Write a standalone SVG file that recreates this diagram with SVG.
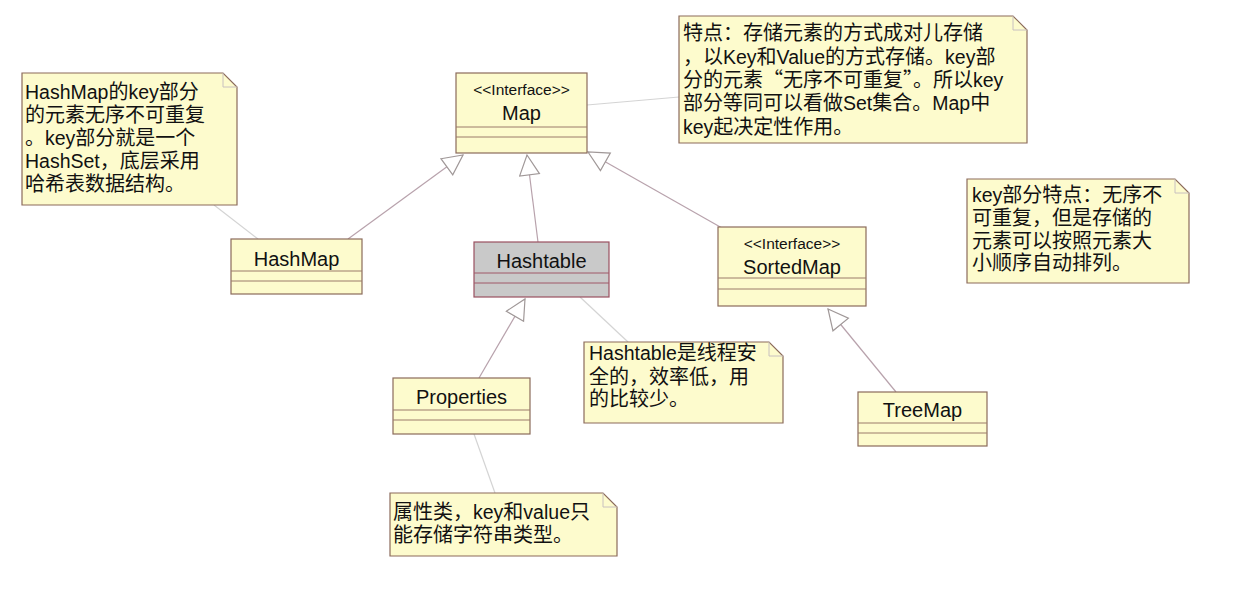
<svg xmlns="http://www.w3.org/2000/svg" width="1240" height="609" viewBox="0 0 1240 609">
<style>
.cls{fill:#fdfbcd;stroke:#8b6b5b;stroke-width:1.2}
.gray{fill:#c9c9c9;stroke:#9a5060;stroke-width:1.2}
.sep{stroke:#9b7b6b;stroke-width:1}
.sepg{stroke:#a05868;stroke-width:1}
.note{fill:#fdfbcd;stroke:#8b6b5b;stroke-width:1.2}
.fold{fill:none;stroke:#c8c0c0;stroke-width:1}
.name{font-family:"Liberation Sans",Arial,sans-serif;font-size:20px;fill:#111;text-anchor:middle}
.st{font-family:"Liberation Sans",Arial,sans-serif;font-size:15.5px;fill:#111;text-anchor:middle}
.nt{font-family:"Noto Sans CJK SC",sans-serif;font-size:20px;fill:#111}
.l{font-family:"Liberation Sans",Arial,sans-serif;font-size:19.5px}
.gen{stroke:#b8a2ac;stroke-width:1.2;fill:none;marker-end:url(#tri)}
.link{stroke:#d4d4d4;stroke-width:1.2;fill:none}
</style>
<defs>
<marker id="tri" markerUnits="userSpaceOnUse" markerWidth="26" markerHeight="26" refX="21" refY="11" orient="auto">
<path d="M1,1 L21,11 L1,21 Z" fill="#fff" stroke="#a09898" stroke-width="1.2"/>
</marker>
</defs>
<rect width="1240" height="609" fill="#fff"/>

<g id="connectors">
<line class="gen" x1="348" y1="239" x2="463" y2="155"/>
<line class="gen" x1="538" y1="242" x2="527" y2="155"/>
<line class="gen" x1="722" y1="228" x2="588" y2="152"/>
<line class="gen" x1="479" y1="378" x2="525" y2="299"/>
<line class="gen" x1="896" y1="392" x2="828" y2="309"/>
<line class="link" x1="587" y1="105" x2="679" y2="97"/>
<line class="link" x1="214" y1="205" x2="258" y2="239"/>
<line class="link" x1="580" y1="297" x2="628" y2="342"/>
<line class="link" x1="474" y1="434" x2="495" y2="493"/>
</g>

<g id="Map">
<rect class="cls" x="456" y="73" width="131" height="80"/>
<line class="sep" x1="456" y1="127" x2="587" y2="127"/>
<line class="sep" x1="456" y1="137" x2="587" y2="137"/>
<text class="st" x="521.5" y="95">&lt;&lt;Interface&gt;&gt;</text>
<text class="name" x="521.5" y="120">Map</text>
</g>

<g id="HashMap">
<rect class="cls" x="231" y="239" width="131" height="55"/>
<line class="sep" x1="231" y1="271" x2="362" y2="271"/>
<line class="sep" x1="231" y1="281" x2="362" y2="281"/>
<text class="name" x="296.5" y="266">HashMap</text>
</g>

<g id="Hashtable">
<rect class="gray" x="474" y="242" width="135" height="55"/>
<line class="sepg" x1="474" y1="273" x2="609" y2="273"/>
<line class="sepg" x1="474" y1="283" x2="609" y2="283"/>
<text class="name" x="541.5" y="268">Hashtable</text>
</g>

<g id="SortedMap">
<rect class="cls" x="718" y="227" width="148" height="79"/>
<line class="sep" x1="718" y1="278" x2="866" y2="278"/>
<line class="sep" x1="718" y1="289" x2="866" y2="289"/>
<text class="st" x="792" y="249">&lt;&lt;Interface&gt;&gt;</text>
<text class="name" x="792" y="274">SortedMap</text>
</g>

<g id="Properties">
<rect class="cls" x="393" y="378" width="137" height="56"/>
<line class="sep" x1="393" y1="410" x2="530" y2="410"/>
<line class="sep" x1="393" y1="420" x2="530" y2="420"/>
<text class="name" x="461.5" y="404">Properties</text>
</g>

<g id="TreeMap">
<rect class="cls" x="858" y="392" width="129" height="54"/>
<line class="sep" x1="858" y1="423" x2="987" y2="423"/>
<line class="sep" x1="858" y1="433" x2="987" y2="433"/>
<text class="name" x="922.5" y="417">TreeMap</text>
</g>

<g id="noteMap">
<path class="note" d="M679,16 H1013 L1027,30 V143 H679 Z"/>
<path class="fold" d="M1013,16 V30 H1027"/>
<text class="nt" x="683" y="40">特点：存储元素的方式成对儿存储</text>
<text class="nt" x="683" y="64">，以<tspan class="l">Key</tspan>和<tspan class="l">Value</tspan>的方式存储。<tspan class="l">key</tspan>部</text>
<text class="nt" x="683" y="87">分的元素“无序不可重复”。所以<tspan class="l">key</tspan></text>
<text class="nt" x="683" y="110">部分等同可以看做<tspan class="l">Set</tspan>集合。<tspan class="l">Map</tspan>中</text>
<text class="nt" x="683" y="134"><tspan class="l">key</tspan>起决定性作用。</text>
</g>

<g id="noteHashMap">
<path class="note" d="M22,73 H223 L237,87 V205 H22 Z"/>
<path class="fold" d="M223,73 V87 H237"/>
<text class="nt" x="25" y="99"><tspan class="l">HashMap</tspan>的<tspan class="l">key</tspan>部分</text>
<text class="nt" x="25" y="122">的元素无序不可重复</text>
<text class="nt" x="25" y="145">。<tspan class="l">key</tspan>部分就是一个</text>
<text class="nt" x="25" y="168"><tspan class="l">HashSet</tspan>，底层采用</text>
<text class="nt" x="25" y="191">哈希表数据结构。</text>
</g>

<g id="noteSortedMap">
<path class="note" d="M967,179 H1175 L1189,193 V283 H967 Z"/>
<path class="fold" d="M1175,179 V193 H1189"/>
<text class="nt" x="972" y="202"><tspan class="l">key</tspan>部分特点：无序不</text>
<text class="nt" x="972" y="225">可重复，但是存储的</text>
<text class="nt" x="972" y="248">元素可以按照元素大</text>
<text class="nt" x="972" y="270">小顺序自动排列。</text>
</g>

<g id="noteHashtable">
<path class="note" d="M584,342 H769 L783,356 V423 H584 Z"/>
<path class="fold" d="M769,342 V356 H783"/>
<text class="nt" x="589" y="360"><tspan class="l">Hashtable</tspan>是线程安</text>
<text class="nt" x="589" y="384">全的，效率低，用</text>
<text class="nt" x="589" y="406">的比较少。</text>
</g>

<g id="noteProperties">
<path class="note" d="M390,493 H603 L617,507 V556 H390 Z"/>
<path class="fold" d="M603,493 V507 H617"/>
<text class="nt" x="393" y="519">属性类，<tspan class="l">key</tspan>和<tspan class="l">value</tspan>只</text>
<text class="nt" x="393" y="542">能存储字符串类型。</text>
</g>
</svg>
